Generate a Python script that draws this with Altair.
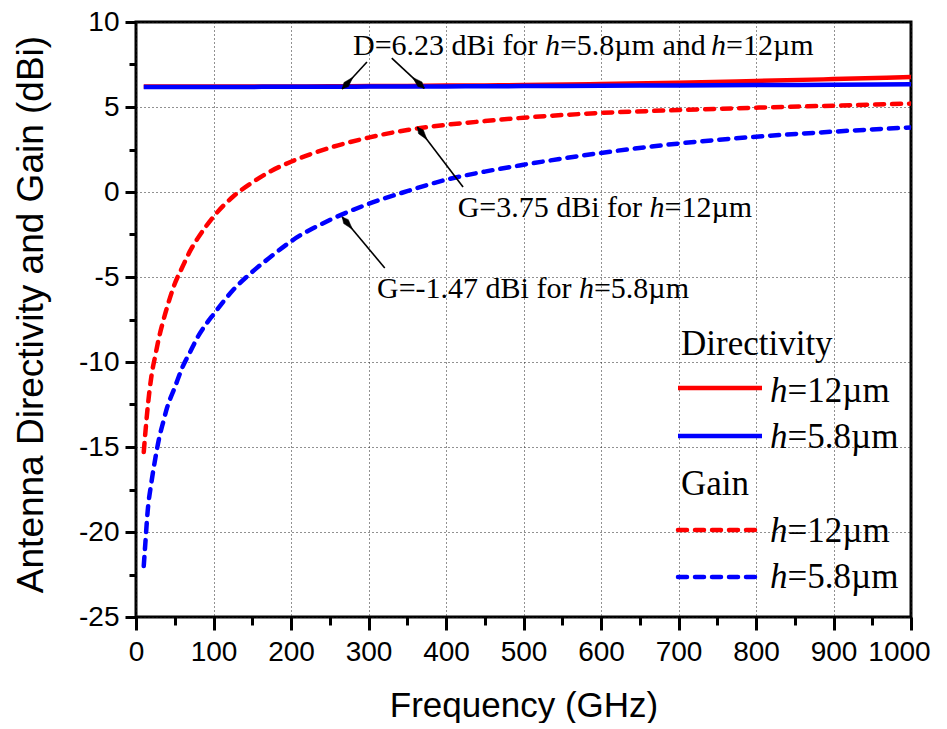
import altair as alt
import pandas as pd
import math

# ---------------- data ----------------
freq = [10, 12, 15, 20, 25, 30, 35, 40, 50, 60, 70, 80, 90, 100, 125, 150, 175,
        200, 250, 300, 350, 400, 450, 500, 600, 700, 800, 900, 1000]
dir_12 = [6.20, 6.20, 6.20, 6.20, 6.20, 6.20, 6.20, 6.20, 6.20, 6.20, 6.20, 6.20,
          6.20, 6.20, 6.20, 6.21, 6.21, 6.21, 6.22, 6.23, 6.24, 6.26, 6.27, 6.29,
          6.35, 6.43, 6.53, 6.64, 6.76]
dir_58 = [6.18, 6.18, 6.18, 6.18, 6.18, 6.18, 6.18, 6.18, 6.18, 6.18, 6.18, 6.18,
          6.18, 6.18, 6.18, 6.18, 6.19, 6.19, 6.19, 6.20, 6.20, 6.21, 6.22, 6.23,
          6.25, 6.27, 6.29, 6.31, 6.34]
gain_12 = [-15.3, -14.2, -12.7, -10.8, -9.6, -8.5, -7.6, -6.8, -5.4, -4.4, -3.45,
           -2.7, -2.04, -1.45, -0.28, 0.56, 1.25, 1.78, 2.6, 3.2, 3.65, 3.95, 4.17,
           4.37, 4.65, 4.82, 4.96, 5.08, 5.2]
gain_58 = [-22.0, -20.7, -18.8, -17.05, -15.65, -14.45, -13.55, -12.7, -11.5, -10.3,
           -9.4, -8.5, -7.8, -7.2, -5.78, -4.7, -3.77, -2.9, -1.65, -0.7, 0.05, 0.72,
           1.2, 1.6, 2.3, 2.85, 3.25, 3.55, 3.8]

series_names = ["D12", "D58", "G12", "G58"]
series_colors = ["#ff0000", "#0000ff", "#ff0000", "#0000ff"]

x_ticks = [0, 50, 100, 150, 200, 250, 300, 350, 400, 450, 500, 550, 600, 650,
           700, 750, 800, 850, 900, 950, 1000]
y_ticks = [-25, -22.5, -20, -17.5, -15, -12.5, -10, -7.5, -5, -2.5, 0, 2.5, 5, 7.5, 10]

# annotation texts (segments: text, italic) and anchors (data units)
ann_segments = [
    [("D=6.23 dBi for ", False), ("h", True), ("=5.8µm and ", False), ("h", True), ("=12µm", False)],
    [("G=3.75 dBi for ", False), ("h", True), ("=12µm", False)],
    [("G=-1.47 dBi for ", False), ("h", True), ("=5.8µm", False)],
]
ann_x = [280, 415, 311]
ann_y = [8.06, -1.47, -6.24]

# arrows: start (near text) -> end (on the curve)
arr_x1 = [298, 330, 422, 321]
arr_y1 = [7.65, 7.88, 0.29, -4.47]
arr_x2 = [266, 372, 363, 266]
arr_y2 = [6.06, 6.1, 3.82, -1.47]

legend_labels = [[("h", True), ("=12µm", False)], [("h", True), ("=5.8µm", False)]]

# ---------------- layout / style ----------------
W, H = 775, 595
X0, X1 = 0, 1000
Y0, Y1 = -25, 10
PXX = W / (X1 - X0)
PXY = H / (Y1 - Y0)

SERIF = "Liberation Serif"
SANS = "Liberation Sans"

# Times advance widths (per 1000 em)
TW = {' ': 250, 'D': 722, '=': 564, '.': 250, 'd': 500, 'B': 667, 'i': 278,
      'f': 333, 'o': 500, 'r': 333, 'h': 500, 'µ': 500, 'm': 778, 'a': 444,
      'n': 500, 'G': 722, '-': 333}
for c in "0123456789":
    TW[c] = 500


def text_width(s, size):
    return sum(TW.get(c, 500) for c in s) * size / 1000.0


def px_to_dx(px):
    return px / PXX


def px_to_dy(py):
    return py / PXY


rows_reg, rows_it = [], []


def add_rich(segments, x, y, size, key):
    off = 0.0
    for txt, it in segments:
        row = {"x": x + px_to_dx(off), "y": y, "t": txt, "k": key}
        (rows_it if it else rows_reg).append(row)
        off += text_width(txt, size)


for segs, ax, ay in zip(ann_segments, ann_x, ann_y):
    add_rich(segs, ax, ay, 30, "ann")


def lx(px):
    return X0 + px / PXX


def ly(py):
    return Y1 - py / PXY


LEG_FS = 35
rows_reg.append({"x": lx(545), "y": ly(333), "t": "Directivity", "k": "leg"})
rows_reg.append({"x": lx(545), "y": ly(473), "t": "Gain", "k": "leg"})
add_rich(legend_labels[0], lx(634), ly(380), LEG_FS, "leg")
add_rich(legend_labels[1], lx(634), ly(426), LEG_FS, "leg")
add_rich(legend_labels[0], lx(634), ly(520), LEG_FS, "leg")
add_rich(legend_labels[1], lx(634), ly(566), LEG_FS, "leg")

df_reg = pd.DataFrame(rows_reg)
df_it = pd.DataFrame(rows_it)

leg_lines = pd.DataFrame({
    "s": ["D12", "D58", "G12", "G58"],
    "x": [lx(542), lx(542), lx(542), lx(542)],
    "x2": [lx(626), lx(626), lx(619), lx(619)],
    "y": [ly(366), ly(414), ly(508), ly(555)],
})

df_lines = pd.DataFrame(
    [{"x": f, "y": v, "s": "D12"} for f, v in zip(freq, dir_12)]
    + [{"x": f, "y": v, "s": "D58"} for f, v in zip(freq, dir_58)]
)
df_gain = pd.DataFrame(
    [{"x": f, "y": v, "s": "G12"} for f, v in zip(freq, gain_12)]
    + [{"x": f, "y": v, "s": "G58"} for f, v in zip(freq, gain_58)]
)

df_arr = pd.DataFrame({"x": arr_x1, "y": arr_y1, "x2": arr_x2, "y2": arr_y2})
HEAD_HALF = 8  # px
heads = []
for x1, y1, x2, y2 in zip(arr_x1, arr_y1, arr_x2, arr_y2):
    dxp = (x2 - x1) * PXX
    dyp = -(y2 - y1) * PXY
    L = math.hypot(dxp, dyp)
    ux, uy = dxp / L, dyp / L
    ang = math.degrees(math.atan2(-ux, uy)) % 360
    cx = x2 - px_to_dx(HEAD_HALF * ux)
    cy = y2 + px_to_dy(HEAD_HALF * uy)
    heads.append({"x": cx, "y": cy, "a": ang})
df_heads = pd.DataFrame(heads)

xscale = alt.Scale(domain=[X0, X1], nice=False, zero=False)
yscale = alt.Scale(domain=[Y0, Y1], nice=False, zero=False)
cscale = alt.Scale(domain=series_names, range=series_colors)

x_major = "datum.value % 100 === 0"
y_major = "datum.value % 5 === 0"

xaxis = alt.Axis(
    values=x_ticks,
    labelExpr=f"{x_major} ? '' + datum.value : ''",
    title="Frequency (GHz)",
    titleFont=SANS, titleFontSize=35, titleFontWeight="normal", titleColor="black",
    titleX=W / 2, titleY=99, titleBaseline="alphabetic", titleAlign="center",
    labelFont=SANS, labelFontSize=28, labelColor="black", labelPadding=8,
    labelFlush=False, labelOverlap=False,
    labelOffset={"condition": {"test": "datum.value === 1000", "value": -12}, "value": 0},
    tickSize={"condition": {"test": x_major, "value": 13}, "value": 8},
    tickWidth=3, tickColor="black",
    domain=False,
    grid=True, gridColor="#222222", gridDash=[1, 3], gridWidth=1,
    gridOpacity={"condition": {"test": x_major, "value": 1}, "value": 0},
)
yaxis = alt.Axis(
    values=y_ticks,
    labelExpr=f"{y_major} ? '' + datum.value : ''",
    title="Antenna Directivity and Gain (dBi)",
    titleFont=SANS, titleFontSize=37, titleFontWeight="normal", titleColor="black",
    titleX=-94, titleY=292, titleAngle=270, titleBaseline="alphabetic", titleAlign="center",
    labelFont=SANS, labelFontSize=28, labelColor="black", labelPadding=6,
    labelOverlap=False, labelBaseline="middle",
    tickSize={"condition": {"test": y_major, "value": 11}, "value": 7},
    tickWidth=3, tickColor="black",
    domain=False,
    grid=True, gridColor="#222222", gridDash=[1, 3], gridWidth=1,
    gridOpacity={"condition": {"test": y_major, "value": 1}, "value": 0},
)


def X(field="x"):
    return alt.X(f"{field}:Q", scale=xscale, axis=xaxis)


def Y(field="y"):
    return alt.Y(f"{field}:Q", scale=yscale, axis=yaxis)


dir_layer = alt.Chart(df_lines).mark_line(strokeWidth=4.5, interpolate="monotone", clip=True).encode(
    x=X(), y=Y(),
    color=alt.Color("s:N", scale=cscale, legend=None),
    detail="s:N",
)

gain_layer = alt.Chart(df_gain).mark_line(
    strokeWidth=4.5, interpolate="monotone", strokeDash=[9, 8], strokeCap="round", clip=True
).encode(
    x=X(), y=Y(),
    color=alt.Color("s:N", scale=cscale, legend=None),
    detail="s:N",
)

arrow_layer = alt.Chart(df_arr).mark_rule(strokeWidth=1.6, color="black").encode(
    x=X(), y=Y(), x2="x2:Q", y2="y2:Q",
)

head_layer = alt.Chart(df_heads).mark_point(
    shape="M0,1L0.38,0.25L0,-1L-0.38,0.25Z", filled=True, fill="black",
    stroke="black", strokeWidth=0.5, opacity=1, size=(2 * HEAD_HALF) ** 2
).encode(
    x=X(), y=Y(),
    angle=alt.Angle("a:Q", scale=None),
)

leg_solid = alt.Chart(leg_lines[leg_lines.s.str.startswith("D")]).mark_rule(strokeWidth=4.5).encode(
    x=X(), x2="x2:Q", y=Y(),
    color=alt.Color("s:N", scale=cscale, legend=None),
)
leg_dash = alt.Chart(leg_lines[leg_lines.s.str.startswith("G")]).mark_rule(
    strokeWidth=4.5, strokeDash=[9, 8], strokeCap="round"
).encode(
    x=X(), x2="x2:Q", y=Y(),
    color=alt.Color("s:N", scale=cscale, legend=None),
)


def text_layer(df, size, italic):
    kw = dict(font=SERIF, align="left", baseline="alphabetic", color="black", fontSize=size)
    if italic:
        kw["fontStyle"] = "italic"
    return alt.Chart(df).mark_text(**kw).encode(
        x=X(), y=Y(), text="t:N",
    )


txt_layers = [
    text_layer(df_reg[df_reg.k == "ann"], 30, False),
    text_layer(df_it[df_it.k == "ann"], 30, True),
    text_layer(df_reg[df_reg.k == "leg"], LEG_FS, False),
    text_layer(df_it[df_it.k == "leg"], LEG_FS, True),
]

chart = alt.layer(
    dir_layer, gain_layer, arrow_layer, head_layer, leg_solid, leg_dash, *txt_layers
).properties(
    width=W, height=H,
    autosize=alt.AutoSizeParams(type="none"),
    padding={"left": 128, "top": 14, "right": 20, "bottom": 106},
    background="white",
).configure_view(
    stroke="black", strokeWidth=3
)

chart.save("out.html", embed_options={"renderer": "svg", "actions": False})
